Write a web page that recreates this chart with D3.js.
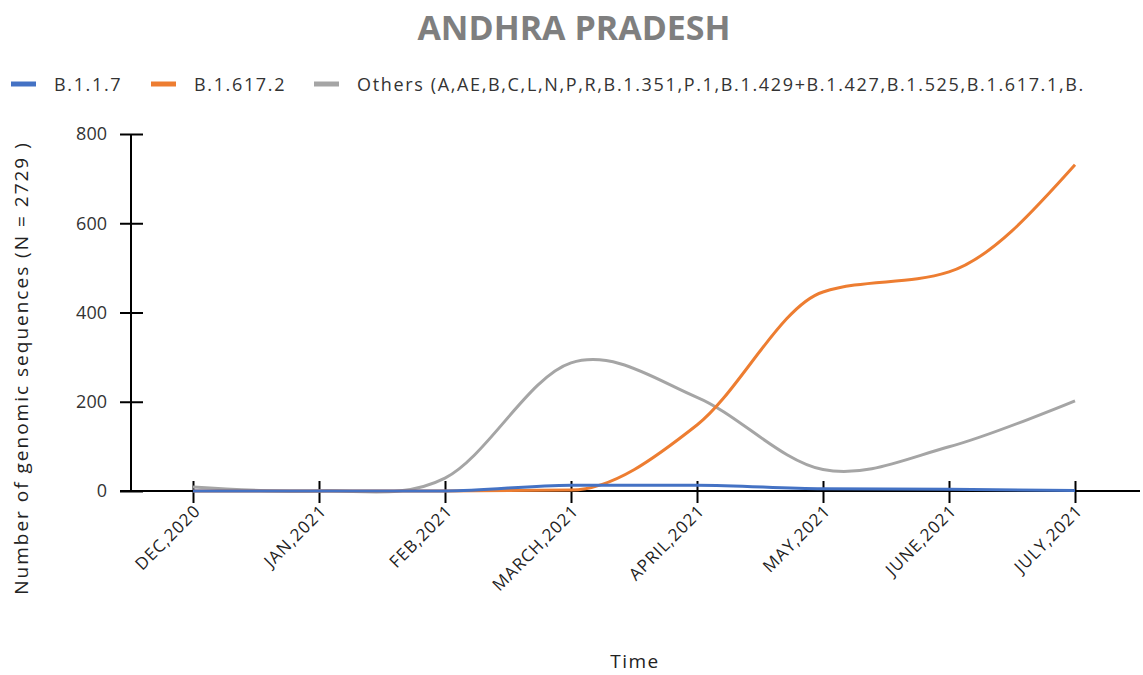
<!DOCTYPE html>
<html>
<head>
<meta charset="utf-8">
<script src="https://cdn.jsdelivr.net/npm/d3@7"></script>
<style>
  body { margin: 0; background: #fff; }
  svg { font-family: "Open Sans", sans-serif; }
</style>
</head>
<body>
<svg width="1143" height="675"></svg>
<script>
// data
var months = ["DEC,2020", "JAN,2021", "FEB,2021", "MARCH,2021", "APRIL,2021", "MAY,2021", "JUNE,2021", "JULY,2021"];
var b117 = [0, 0, 0, 13, 13, 5, 4, 1];
var b16172 = [0, 0, 0, 2, 148, 446, 491, 731];
var others = [9, 0, 29, 287, 210, 48, 99, 202];
var seriesNames = ["B.1.1.7", "B.1.617.2", "Others (A,AE,B,C,L,N,P,R,B.1.351,P.1,B.1.429+B.1.427,B.1.525,B.1.617.1,B."];
var colors = ["#4472C4", "#ED7D31", "#A5A5A5"];
var yTicks = [0, 200, 400, 600, 800];

var svg = d3.select("svg");

var x = d3.scalePoint().domain(months).range([193, 1075]);
var y = d3.scaleLinear().domain([0, 800]).range([491, 134]);

// title
svg.append("text")
  .attr("x", 574).attr("y", 40)
  .attr("text-anchor", "middle")
  .style("font-size", "34px").style("font-weight", "bold")
  .style("fill", "#7f7f7f")
  .text("ANDHRA PRADESH");

// legend
var legendX = [11, 151, 314];
seriesNames.forEach(function(name, i) {
  svg.append("line")
    .attr("x1", legendX[i]).attr("x2", legendX[i] + 25)
    .attr("y1", 84).attr("y2", 84)
    .style("stroke", colors[i]).style("stroke-width", 5);
  svg.append("text")
    .attr("x", legendX[i] + 43).attr("y", 91)
    .style("font-size", "18px").style("letter-spacing", "1.65px").style("fill", "#333")
    .text(name);
});

// y axis
var yAxis = svg.append("g")
  .attr("transform", "translate(131,0)")
  .call(d3.axisLeft(y).tickValues(yTicks).tickSize(0).tickPadding(24));
yAxis.select(".domain").attr("d", "M0,134V491").style("stroke", "#000").style("stroke-width", 2);
yAxis.selectAll(".tick line").attr("x1", -11).attr("x2", 12).style("stroke", "#000").style("stroke-width", 2);
yAxis.selectAll(".tick text").style("font-size", "18px").style("fill", "#333").style("font-family", "Open Sans");

// x axis
var xAxis = svg.append("g")
  .attr("transform", "translate(0,491)")
  .call(d3.axisBottom(x).tickSize(0));
xAxis.select(".domain").attr("d", "M120,0H1140").style("stroke", "#000").style("stroke-width", 2);
xAxis.selectAll(".tick line").attr("y1", -10).attr("y2", 12).style("stroke", "#000").style("stroke-width", 2);
xAxis.selectAll(".tick text")
  .attr("y", 0).attr("dy", 0)
  .attr("transform", "translate(8,21) rotate(-45)")
  .style("text-anchor", "end")
  .style("font-size", "17px").style("letter-spacing", "1px")
  .style("fill", "#222").style("font-family", "Open Sans");

// axis titles
svg.append("text")
  .attr("transform", "translate(28,368) rotate(-90)")
  .attr("text-anchor", "middle")
  .style("font-size", "19px").style("letter-spacing", "2px").style("fill", "#222")
  .text("Number of genomic sequences (N = 2729 )");
svg.append("text")
  .attr("x", 635).attr("y", 668)
  .attr("text-anchor", "middle")
  .style("font-size", "19px").style("letter-spacing", "1.5px").style("fill", "#222")
  .text("Time");

// lines: gray overshoots its March peak like the reference, the others stay flat at zero
var lineRound = d3.line()
  .x(function(d, i) { return x(months[i]); })
  .y(function(d) { return y(d); })
  .curve(d3.curveCatmullRom.alpha(0));
var lineFlat = d3.line()
  .x(function(d, i) { return x(months[i]); })
  .y(function(d) { return y(d); })
  .curve(d3.curveMonotoneX);

svg.append("path").datum(others).attr("d", lineRound)
  .style("fill", "none").style("stroke", colors[2]).style("stroke-width", 3);
svg.append("path").datum(b16172).attr("d", lineFlat)
  .style("fill", "none").style("stroke", colors[1]).style("stroke-width", 3);
svg.append("path").datum(b117).attr("d", lineFlat)
  .style("fill", "none").style("stroke", colors[0]).style("stroke-width", 3);
</script>
</body>
</html>
